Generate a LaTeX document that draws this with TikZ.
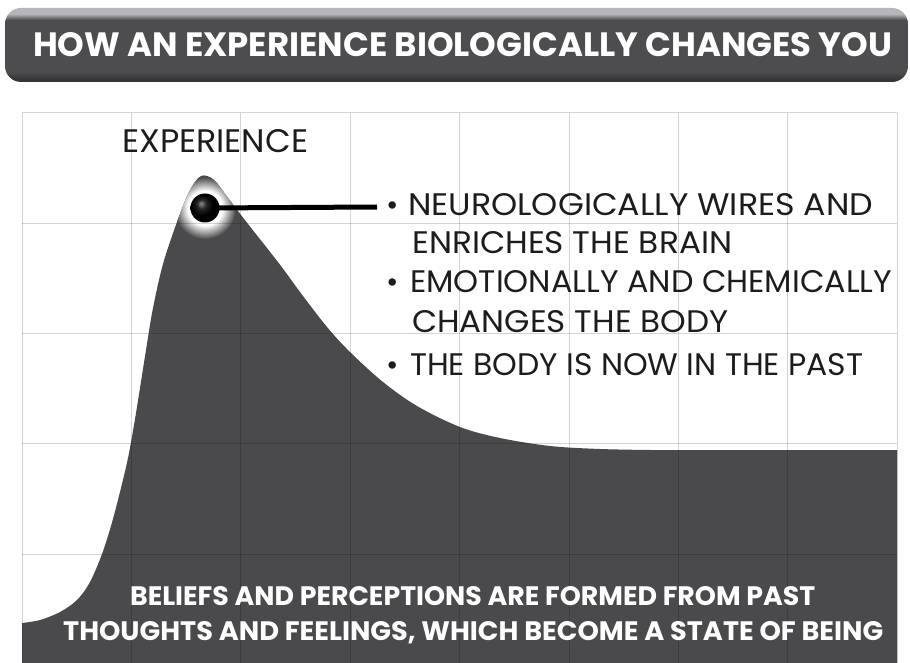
\documentclass[tikz,border=0pt]{standalone}
\usepackage{fontspec}
\setmainfont{Poppins}
\usepackage{graphicx}

\definecolor{barfill}{HTML}{4D4D50}
\definecolor{bardark}{HTML}{363638}
\definecolor{barlight}{HTML}{B6B6BA}
\definecolor{curvefill}{HTML}{4A4A4D}
\definecolor{inkgray}{HTML}{1C1C1C}

\pgfdeclareverticalshading{barshade}{100bp}{color(0bp)=(bardark); color(27bp)=(bardark); color(32bp)=(barfill); color(67bp)=(barfill); color(71bp)=(barlight); color(75bp)=(barlight); color(100bp)=(barlight)}
\pgfdeclareradialshading{haloshade}{\pgfpoint{0bp}{0bp}}{color(0bp)=(white); color(14bp)=(white); color(25bp)=(curvefill); color(50bp)=(curvefill)}
\pgfdeclareradialshading{knobshade}{\pgfpoint{-7bp}{8bp}}{color(0bp)=(black!45); color(8bp)=(black!85); color(18bp)=(black); color(50bp)=(black)}

\newcommand{\fitcaps}[3]{\resizebox{#1pt}{#2pt}{#3}}

\begin{document}
\begin{tikzpicture}[x=1pt,y=-1pt,
  gridline/.style={black,opacity=0.17,line width=1pt},
  headtext/.style={text=white,inner sep=0pt,anchor=base west,font=\bfseries},
  bodytext/.style={text=inkgray,inner sep=0pt,anchor=base west},
  dot/.style={text=inkgray,inner sep=0pt,anchor=base,font=\fontsize{30}{36}\selectfont},
  knob/.style={circle,minimum size=29pt,inner sep=0pt,shading=knobshade},
  lead/.style={black,line width=5pt}]
\useasboundingbox (0,0) rectangle (910,663);

% title bar
\shade[shading=barshade,rounded corners=16pt] (5,8) rectangle (908,82);
\node[headtext] (headline) at (33,57) {\fitcaps{859}{24}{HOW AN EXPERIENCE BIOLOGICALLY CHANGES YOU}};

% curve
\fill[curvefill,save path=\curvepath] (22,663) -- plot[smooth,tension=0.55] coordinates {
  (22,623) (40,620) (60,612) (77,600) (90,582) (102,554) (111,526) (120,492)
  (128,458) (134,425) (140,388) (146,350) (153,308) (163,264) (177,222)
  (189,192) (201,176) (214,180) (228,198) (248,224) (267,248) (284,270)
  (300,292) (327,327) (350,352) (383,382) (417,406) (460,427) (500,438)
  (550,446) (600,449) (650,450)} -- (897,450) -- (897,663) -- cycle;
\coordinate (peak) at (205,208);
\begin{scope}
  \clip[use path=\curvepath];
  \shade[shading=haloshade] (peak) circle (31);
\end{scope}

% grid
\foreach \gx in {0,...,8}
  \draw[gridline] ({22+109.4*\gx},113) -- ({22+109.4*\gx},663);
\foreach \gy in {0,...,4}
  \draw[gridline] (22,{113+110.25*\gy}) -- (897,{113+110.25*\gy});

% experience point
\coordinate (leadend) at (377,207);
\draw[lead] (peak) -- (leadend);
\node[knob] (ball) at (peak) {};
\node[bodytext] (exper) at (122,153) {\fitcaps{186}{23}{EXPERIENCE}};

% effects
\node[dot] (dot1) at (393,215) {\textbullet};
\node[dot] (dot2) at (393,292) {\textbullet};
\node[dot] (dot3) at (393,375) {\textbullet};
\node[bodytext] (wires) at (408,215) {\fitcaps{465}{22}{NEUROLOGICALLY WIRES AND}};
\node[bodytext] (brain) at (412,253) {\fitcaps{320}{22}{ENRICHES THE BRAIN}};
\node[bodytext] (chem) at (410,292) {\fitcaps{482}{22}{EMOTIONALLY AND CHEMICALLY}};
\node[bodytext] (body) at (412,332) {\fitcaps{316}{22}{CHANGES THE BODY}};
\node[bodytext] (past) at (410,375) {\fitcaps{453}{22}{THE BODY IS NOW IN THE PAST}};

% state of being
\node[headtext] (beliefs) at (130,605) {\fitcaps{685}{19}{BELIEFS AND PERCEPTIONS ARE FORMED FROM PAST}};
\node[headtext] (being) at (63,640) {\fitcaps{820}{19}{THOUGHTS AND FEELINGS, WHICH BECOME A STATE OF BEING}};
\end{tikzpicture}
\end{document}
